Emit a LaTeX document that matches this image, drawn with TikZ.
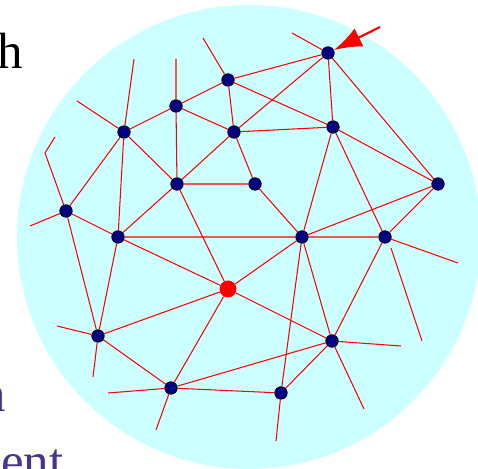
\documentclass[tikz,border=0pt]{standalone}
\usepackage{fontspec}
\setmainfont{Liberation Serif}
\usepackage{tikz}
\usetikzlibrary{arrows.meta}
\definecolor{gSky}{RGB}{204,255,255}
\definecolor{gNavy}{RGB}{0,0,128}
\definecolor{gPurple}{RGB}{72,52,140}

\begin{document}
\begin{tikzpicture}[
  x=0.02cm, y=-0.02cm,
  vertex/.style={circle, draw=black, line width=0.4pt, fill=gNavy,
                 minimum size=0.25cm, inner sep=0pt},
  source/.style={circle, fill=red, minimum size=0.34cm, inner sep=0pt},
  edge/.style={red, line width=0.6pt},
  pointer/.style={-{Latex[length=5.6mm, width=4mm]}, red, line width=1.2pt},
  slidetext/.style={inner sep=0pt, font=\fontsize{29}{34}\selectfont},
]
  \useasboundingbox (0,0) rectangle (478,469);
  \fill[gSky] (249,237) circle[radius=4.64cm];

  % slide text cut by the frame
  \node[slidetext, anchor=base east] (wordh) at (23,69) {h};
  \node[slidetext, anchor=base east, text=gPurple] (wordn) at (6,412) {n};
  \node[slidetext, anchor=base west, text=gPurple] (wordent) at (1,479) {ent};

  % vertices
  \node[vertex] (v1)  at (328,53)  {};
  \node[vertex] (v2)  at (228,80)  {};
  \node[vertex] (v3)  at (176,106) {};
  \node[vertex] (v4)  at (124,132) {};
  \node[vertex] (v5)  at (234,132) {};
  \node[vertex] (v6)  at (333,127) {};
  \node[vertex] (v7)  at (177,184) {};
  \node[vertex] (v8)  at (255,184) {};
  \node[vertex] (v9)  at (438,184) {};
  \node[vertex] (v10) at (66,211)  {};
  \node[vertex] (v11) at (118,237) {};
  \node[vertex] (v12) at (302,237) {};
  \node[vertex] (v13) at (385,237) {};
  \node[vertex] (v14) at (98,336)  {};
  \node[vertex] (v15) at (332,341) {};
  \node[vertex] (v16) at (171,388) {};
  \node[vertex] (v17) at (281,393) {};
  \node[source] (center) at (228,289) {};

  % loose ends
  \coordinate (e1)  at (292,33);
  \coordinate (e2)  at (203,38);
  \coordinate (e3)  at (176,59);
  \coordinate (e4)  at (134,59);
  \coordinate (e5)  at (77,101);
  \coordinate (e6)  at (45,153);
  \coordinate (e7)  at (55,137);
  \coordinate (e8)  at (30,226);
  \coordinate (e9)  at (458,263);
  \coordinate (e10) at (391,248);
  \coordinate (e11) at (422,341);
  \coordinate (e12) at (57,326);
  \coordinate (e13) at (93,377);
  \coordinate (e14) at (108,393);
  \coordinate (e15) at (156,430);
  \coordinate (e16) at (276,441);
  \coordinate (e17) at (401,346);
  \coordinate (e18) at (364,409);
  \coordinate (tail) at (380,27);

  \draw[edge] (v1) -- (v2)  (v1) -- (v5)  (v1) -- (v6)  (v1) -- (v9);
  \draw[edge] (v2) -- (v3)  (v2) -- (v5)  (v2) -- (v6);
  \draw[edge] (v3) -- (v4)  (v3) -- (v5)  (v3) -- (v7);
  \draw[edge] (v4) -- (v7)  (v4) -- (v10) (v4) -- (v11);
  \draw[edge] (v5) -- (v6)  (v5) -- (v7)  (v5) -- (v8);
  \draw[edge] (v6) -- (v9)  (v6) -- (v12) (v6) -- (v13);
  \draw[edge] (v7) -- (v8)  (v7) -- (v11) (v7) -- (center);
  \draw[edge] (v8) -- (v12);
  \draw[edge] (v9) -- (v12) (v9) -- (v13);
  \draw[edge] (v10) -- (v11) (v10) -- (v14);
  \draw[edge] (v11) -- (v12) (v11) -- (center) (v11) -- (v14);
  \draw[edge] (v12) -- (v13) (v12) -- (center) (v12) -- (v15) (v12) -- (v17);
  \draw[edge] (v13) -- (v15);
  \draw[edge] (center) -- (v14) (center) -- (v16) (center) -- (v15);
  \draw[edge] (v14) -- (v16);
  \draw[edge] (v16) -- (v15) (v16) -- (v17) (v17) -- (v15);

  \draw[edge] (v1) -- (e1)  (v2) -- (e2)  (v3) -- (e3);
  \draw[edge] (v4) -- (e4)  (v4) -- (e5);
  \draw[edge] (v10) -- (e6) -- (e7)  (v10) -- (e8);
  \draw[edge] (v13) -- (e9)  (e10) -- (e11);
  \draw[edge] (v14) -- (e12)  (v14) -- (e13);
  \draw[edge] (v16) -- (e14)  (v16) -- (e15);
  \draw[edge] (v17) -- (e16);
  \draw[edge] (v15) -- (e17)  (v15) -- (e18);

  \draw[pointer] (tail) -- (v1);
\end{tikzpicture}
\end{document}
